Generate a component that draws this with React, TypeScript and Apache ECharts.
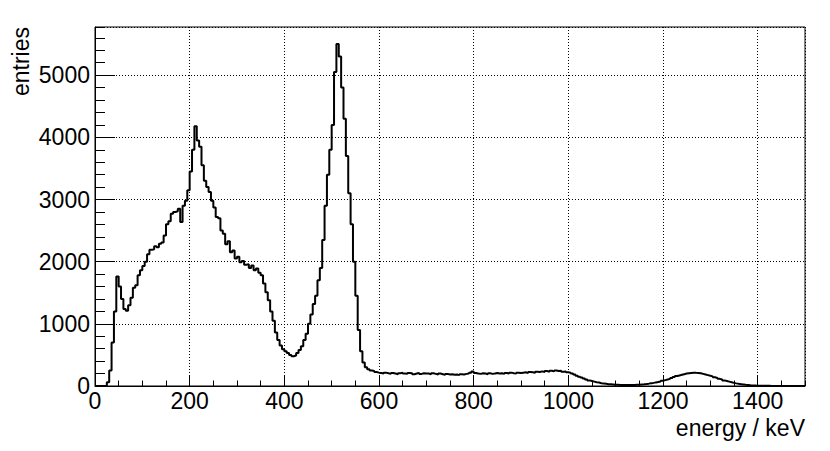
import React, { useEffect, useRef } from "react";
import * as echarts from "echarts";

const binWidth = 5; // keV
const xMin = 0;
const xMax = 1500;
const yMax = 5775;
const yTickLabels = ["0", "1000", "2000", "3000", "4000", "5000"];
const xTickLabels = ["0", "200", "400", "600", "800", "1000", "1200", "1400"];

// entries per 5 keV bin, low edges 0 ... 1495
const counts0to95 = [0, 0, 0, 0, 5, 60, 250, 700, 1200, 1760, 1600, 1400, 1240, 1210, 1300, 1420, 1580, 1620, 1780, 1860];
const counts100to195 = [1930, 2000, 2120, 2190, 2200, 2250, 2230, 2290, 2310, 2420, 2600, 2650, 2770, 2800, 2810, 2850, 2640, 2900, 2980, 3150];
const counts200to295 = [3450, 3800, 4180, 3950, 3850, 3550, 3300, 3200, 3120, 2980, 2870, 2720, 2700, 2500, 2450, 2280, 2330, 2150, 2180, 2050];
const counts300to395 = [2080, 1990, 2010, 1950, 1960, 1900, 1940, 1860, 1890, 1820, 1780, 1650, 1510, 1380, 1200, 1050, 860, 740, 650, 590];
const counts400to495 = [560, 530, 500, 480, 490, 530, 580, 640, 740, 840, 1000, 1150, 1320, 1450, 1700, 1900, 2350, 2900, 3400, 3800];
const counts500to595 = [4200, 5050, 5500, 5300, 4800, 4300, 3700, 3100, 2600, 2000, 1450, 900, 560, 380, 300, 270, 250, 240, 225, 215];
const counts600to695 = [210, 200, 215, 205, 195, 210, 200, 190, 205, 215, 200, 195, 210, 205, 190, 200, 210, 195, 205, 200];
const counts700to795 = [200, 190, 205, 195, 185, 200, 190, 180, 195, 185, 190, 180, 185, 175, 190, 185, 195, 200, 215, 235];
const counts800to895 = [210, 200, 195, 205, 200, 190, 205, 195, 200, 210, 200, 205, 195, 210, 200, 215, 205, 200, 215, 210];
const counts900to995 = [215, 220, 210, 225, 220, 215, 230, 225, 235, 225, 240, 230, 245, 235, 250, 240, 245, 230, 235, 220];
const counts1000to1095 = [215, 200, 185, 165, 150, 135, 120, 105, 90, 80, 70, 60, 55, 45, 40, 35, 30, 28, 25, 22];
const counts1100to1195 = [20, 18, 17, 16, 15, 15, 16, 18, 20, 22, 25, 28, 32, 38, 45, 50, 58, 65, 72, 85];
const counts1200to1295 = [95, 105, 115, 130, 145, 160, 170, 180, 190, 200, 205, 210, 215, 212, 210, 205, 195, 185, 175, 165];
const counts1300to1395 = [155, 140, 130, 115, 105, 90, 80, 70, 60, 50, 42, 35, 30, 25, 20, 16, 12, 10, 8, 6];
const counts1400to1495 = [5, 4, 4, 3, 3, 2, 2, 2, 1, 1, 1, 1, 0, 1, 0, 0, 0, 0, 0, 0];

const counts = [
  ...counts0to95, ...counts100to195, ...counts200to295, ...counts300to395, ...counts400to495,
  ...counts500to595, ...counts600to695, ...counts700to795, ...counts800to895, ...counts900to995,
  ...counts1000to1095, ...counts1100to1195, ...counts1200to1295, ...counts1300to1395, ...counts1400to1495,
];

const FONT = "Liberation Sans";

export default function App() {
  const ref = useRef<HTMLDivElement>(null);
  useEffect(() => {
    if (!ref.current) return;
    const chart = echarts.init(ref.current, null, { renderer: "svg" });
    const data: [number, number][] = counts.map((v, i) => [xMin + i * binWidth, v]);
    data.push([xMax, counts[counts.length - 1]]);

    chart.setOption({
      animation: false,
      backgroundColor: "#ffffff",
      grid: {
        left: 95,
        top: 27,
        right: 25,
        bottom: 65,
        show: true,
        borderColor: "#000",
        borderWidth: 1,
        backgroundColor: "transparent",
      },
      xAxis: [
        {
          type: "value",
          min: xMin,
          max: xMax,
          interval: 200,
          position: "bottom",
          axisLine: { show: true, onZero: false, lineStyle: { color: "#000", width: 1 } },
          axisTick: { show: true, inside: true, length: 11, lineStyle: { color: "#000", width: 1 } },
          splitLine: { show: true, lineStyle: { color: "#000", width: 1, type: [1, 2] } },
          axisLabel: {
            show: true,
            showMaxLabel: false,
            margin: 3,
            color: "#000",
            fontFamily: FONT,
            fontSize: 23,
            formatter: (v: number) => {
              const s = String(v);
              return xTickLabels.includes(s) ? s : "";
            },
          },
        },
        {
          type: "value",
          min: xMin,
          max: xMax,
          interval: 50,
          position: "bottom",
          axisLine: { show: false },
          axisTick: { show: true, inside: true, length: 5.5, lineStyle: { color: "#000", width: 1 } },
          splitLine: { show: false },
          axisLabel: { show: false },
        },
      ],
      yAxis: [
        {
          type: "value",
          min: 0,
          max: yMax,
          interval: 1000,
          position: "left",
          axisLine: { show: true, onZero: false, lineStyle: { color: "#000", width: 1 } },
          axisTick: { show: true, inside: true, length: 20, lineStyle: { color: "#000", width: 1 } },
          splitLine: { show: true, lineStyle: { color: "#000", width: 1, type: [1, 2] } },
          axisLabel: {
            show: true,
            showMaxLabel: false,
            margin: 5,
            color: "#000",
            fontFamily: FONT,
            fontSize: 23,
            formatter: (v: number) => {
              const s = String(v);
              return yTickLabels.includes(s) ? s : "";
            },
          },
        },
        {
          type: "value",
          min: 0,
          max: yMax,
          interval: 200,
          position: "left",
          axisLine: { show: false },
          axisTick: { show: true, inside: true, length: 10, lineStyle: { color: "#000", width: 1 } },
          splitLine: { show: false },
          axisLabel: { show: false },
        },
      ],
      graphic: [
        {
          type: "text",
          x: 21,
          y: 27,
          rotation: Math.PI / 2,
          style: {
            text: "entries",
            fontFamily: FONT,
            fontSize: 23,
            fill: "#000",
            textAlign: "right",
            textVerticalAlign: "middle",
          },
        },
        {
          type: "text",
          x: 805,
          y: 428,
          style: {
            text: "energy / keV",
            fontFamily: FONT,
            fontSize: 23,
            fill: "#000",
            textAlign: "right",
            textVerticalAlign: "middle",
          },
        },
      ],
      series: [
        {
          type: "line",
          xAxisIndex: 0,
          yAxisIndex: 0,
          step: "end",
          data,
          showSymbol: false,
          symbol: "none",
          lineStyle: { color: "#000", width: 2 },
          silent: true,
        },
      ],
    });
    return () => chart.dispose();
  }, []);
  return (
    <div
      ref={ref}
      style={{ position: "absolute", left: 0, top: 0, width: 830, height: 451, background: "#fff" }}
    />
  );
}
